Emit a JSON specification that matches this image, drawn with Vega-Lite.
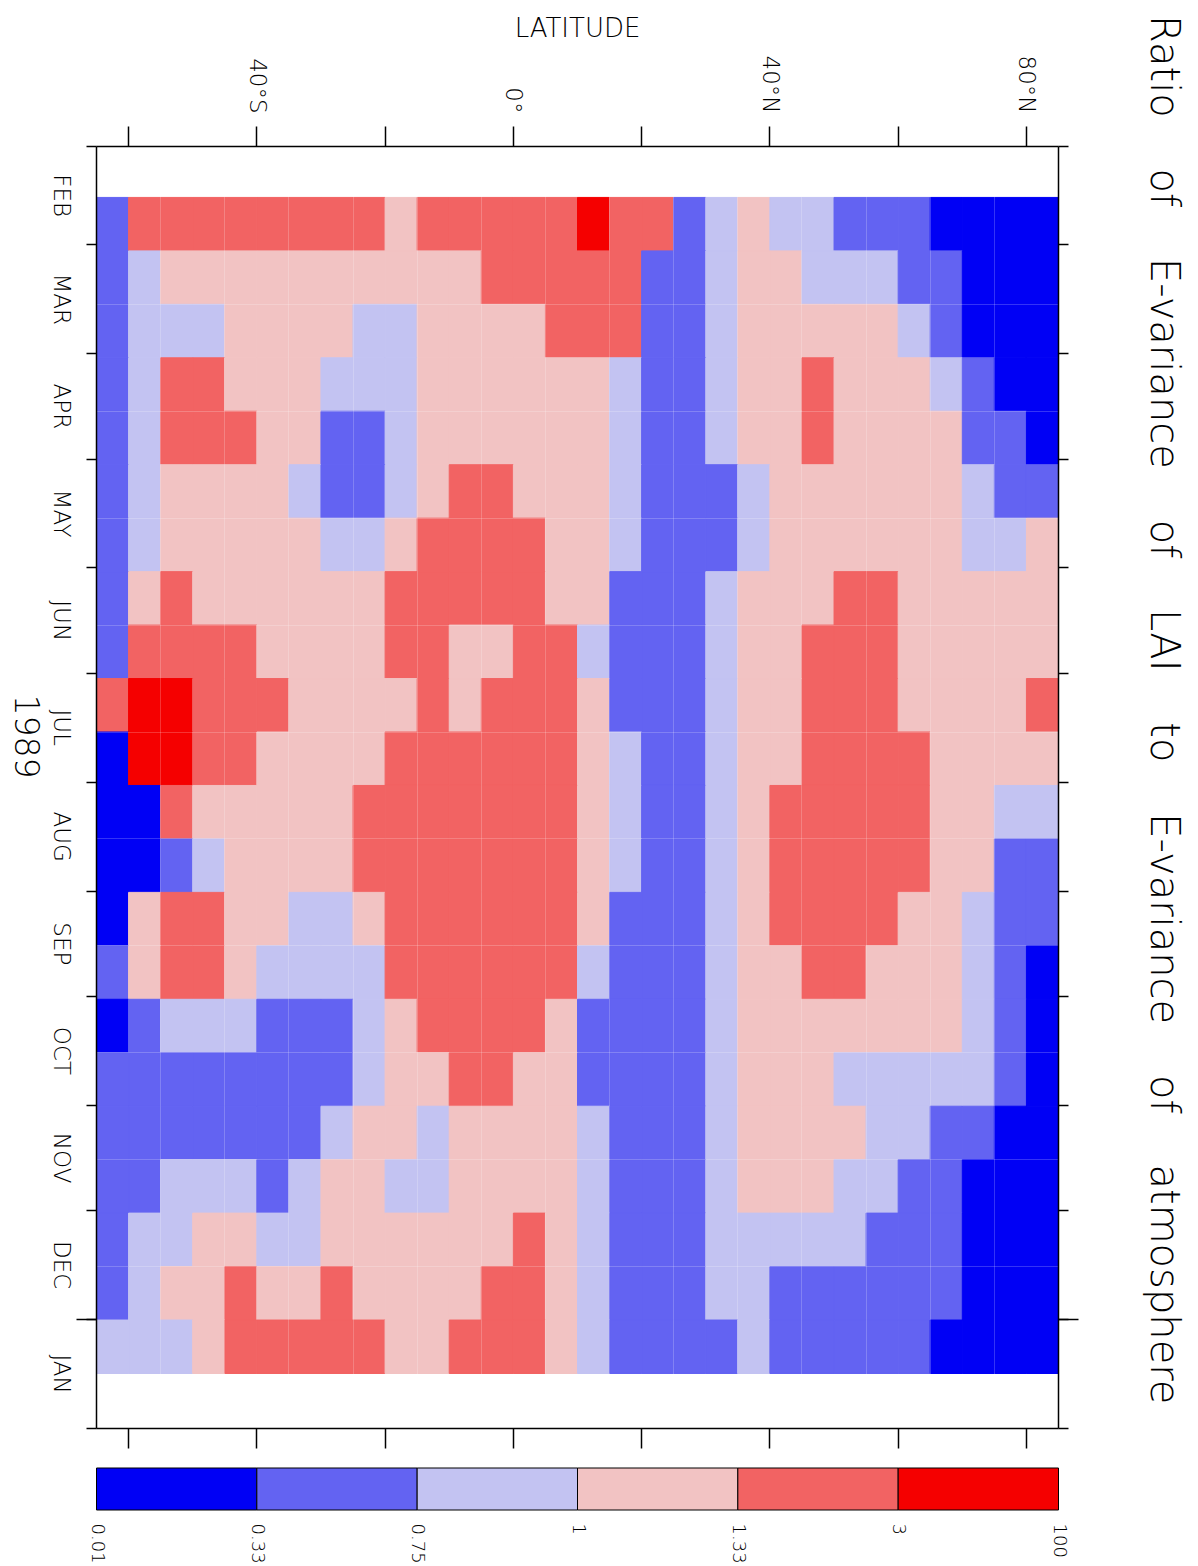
{
"$schema":"https://vega.github.io/schema/vega-lite/v6.json",
"background":"white",
"padding":{"left":7,"top":15,"right":10,"bottom":0},
"spacing":18,
"config":{"view":{"stroke":null},"font":"DejaVu Sans",
"axis":{"labelFont":"DejaVu Sans","titleFont":"DejaVu Sans","labelFontWeight":200,"titleFontWeight":200,"labelColor":"black","titleColor":"black","domainColor":"black","tickColor":"black","labelFlush":false,"labelOverlap":false,"labelBound":false,"grid":false},
"title":{"font":"DejaVu Sans","fontWeight":200,"color":"black"}},
"vconcat":[
{"width":962,"height":1282,
"title":{"text":"Ratio\u00a0\u00a0\u00a0\u00a0of\u00a0\u00a0\u00a0\u00a0E-variance\u00a0\u00a0\u00a0\u00a0of\u00a0\u00a0\u00a0\u00a0LAI\u00a0\u00a0\u00a0\u00a0to\u00a0\u00a0\u00a0\u00a0E-variance\u00a0\u00a0\u00a0\u00a0of\u00a0\u00a0\u00a0\u00a0atmosphere","orient":"right","anchor":"start","fontSize":40,"offset":64,"frame":"bounds"},
"data":{"values":[
{"lat":-62.5,"t":0.25,"c":1},{"lat":-57.5,"t":0.25,"c":4},{"lat":-52.5,"t":0.25,"c":4},{"lat":-47.5,"t":0.25,"c":4},{"lat":-42.5,"t":0.25,"c":4},{"lat":-37.5,"t":0.25,"c":4},{"lat":-32.5,"t":0.25,"c":4},{"lat":-27.5,"t":0.25,"c":4},{"lat":-22.5,"t":0.25,"c":4},{"lat":-17.5,"t":0.25,"c":3},{"lat":-12.5,"t":0.25,"c":4},{"lat":-7.5,"t":0.25,"c":4},{"lat":-2.5,"t":0.25,"c":4},{"lat":2.5,"t":0.25,"c":4},{"lat":7.5,"t":0.25,"c":4},{"lat":12.5,"t":0.25,"c":5},{"lat":17.5,"t":0.25,"c":4},{"lat":22.5,"t":0.25,"c":4},{"lat":27.5,"t":0.25,"c":1},{"lat":32.5,"t":0.25,"c":2},{"lat":37.5,"t":0.25,"c":3},{"lat":42.5,"t":0.25,"c":2},{"lat":47.5,"t":0.25,"c":2},{"lat":52.5,"t":0.25,"c":1},{"lat":57.5,"t":0.25,"c":1},{"lat":62.5,"t":0.25,"c":1},{"lat":67.5,"t":0.25,"c":0},{"lat":72.5,"t":0.25,"c":0},{"lat":77.5,"t":0.25,"c":0},{"lat":82.5,"t":0.25,"c":0},
{"lat":-62.5,"t":0.75,"c":1},{"lat":-57.5,"t":0.75,"c":2},{"lat":-52.5,"t":0.75,"c":3},{"lat":-47.5,"t":0.75,"c":3},{"lat":-42.5,"t":0.75,"c":3},{"lat":-37.5,"t":0.75,"c":3},{"lat":-32.5,"t":0.75,"c":3},{"lat":-27.5,"t":0.75,"c":3},{"lat":-22.5,"t":0.75,"c":3},{"lat":-17.5,"t":0.75,"c":3},{"lat":-12.5,"t":0.75,"c":3},{"lat":-7.5,"t":0.75,"c":3},{"lat":-2.5,"t":0.75,"c":4},{"lat":2.5,"t":0.75,"c":4},{"lat":7.5,"t":0.75,"c":4},{"lat":12.5,"t":0.75,"c":4},{"lat":17.5,"t":0.75,"c":4},{"lat":22.5,"t":0.75,"c":1},{"lat":27.5,"t":0.75,"c":1},{"lat":32.5,"t":0.75,"c":2},{"lat":37.5,"t":0.75,"c":3},{"lat":42.5,"t":0.75,"c":3},{"lat":47.5,"t":0.75,"c":2},{"lat":52.5,"t":0.75,"c":2},{"lat":57.5,"t":0.75,"c":2},{"lat":62.5,"t":0.75,"c":1},{"lat":67.5,"t":0.75,"c":1},{"lat":72.5,"t":0.75,"c":0},{"lat":77.5,"t":0.75,"c":0},{"lat":82.5,"t":0.75,"c":0},
{"lat":-62.5,"t":1.25,"c":1},{"lat":-57.5,"t":1.25,"c":2},{"lat":-52.5,"t":1.25,"c":2},{"lat":-47.5,"t":1.25,"c":2},{"lat":-42.5,"t":1.25,"c":3},{"lat":-37.5,"t":1.25,"c":3},{"lat":-32.5,"t":1.25,"c":3},{"lat":-27.5,"t":1.25,"c":3},{"lat":-22.5,"t":1.25,"c":2},{"lat":-17.5,"t":1.25,"c":2},{"lat":-12.5,"t":1.25,"c":3},{"lat":-7.5,"t":1.25,"c":3},{"lat":-2.5,"t":1.25,"c":3},{"lat":2.5,"t":1.25,"c":3},{"lat":7.5,"t":1.25,"c":4},{"lat":12.5,"t":1.25,"c":4},{"lat":17.5,"t":1.25,"c":4},{"lat":22.5,"t":1.25,"c":1},{"lat":27.5,"t":1.25,"c":1},{"lat":32.5,"t":1.25,"c":2},{"lat":37.5,"t":1.25,"c":3},{"lat":42.5,"t":1.25,"c":3},{"lat":47.5,"t":1.25,"c":3},{"lat":52.5,"t":1.25,"c":3},{"lat":57.5,"t":1.25,"c":3},{"lat":62.5,"t":1.25,"c":2},{"lat":67.5,"t":1.25,"c":1},{"lat":72.5,"t":1.25,"c":0},{"lat":77.5,"t":1.25,"c":0},{"lat":82.5,"t":1.25,"c":0},
{"lat":-62.5,"t":1.75,"c":1},{"lat":-57.5,"t":1.75,"c":2},{"lat":-52.5,"t":1.75,"c":4},{"lat":-47.5,"t":1.75,"c":4},{"lat":-42.5,"t":1.75,"c":3},{"lat":-37.5,"t":1.75,"c":3},{"lat":-32.5,"t":1.75,"c":3},{"lat":-27.5,"t":1.75,"c":2},{"lat":-22.5,"t":1.75,"c":2},{"lat":-17.5,"t":1.75,"c":2},{"lat":-12.5,"t":1.75,"c":3},{"lat":-7.5,"t":1.75,"c":3},{"lat":-2.5,"t":1.75,"c":3},{"lat":2.5,"t":1.75,"c":3},{"lat":7.5,"t":1.75,"c":3},{"lat":12.5,"t":1.75,"c":3},{"lat":17.5,"t":1.75,"c":2},{"lat":22.5,"t":1.75,"c":1},{"lat":27.5,"t":1.75,"c":1},{"lat":32.5,"t":1.75,"c":2},{"lat":37.5,"t":1.75,"c":3},{"lat":42.5,"t":1.75,"c":3},{"lat":47.5,"t":1.75,"c":4},{"lat":52.5,"t":1.75,"c":3},{"lat":57.5,"t":1.75,"c":3},{"lat":62.5,"t":1.75,"c":3},{"lat":67.5,"t":1.75,"c":2},{"lat":72.5,"t":1.75,"c":1},{"lat":77.5,"t":1.75,"c":0},{"lat":82.5,"t":1.75,"c":0},
{"lat":-62.5,"t":2.25,"c":1},{"lat":-57.5,"t":2.25,"c":2},{"lat":-52.5,"t":2.25,"c":4},{"lat":-47.5,"t":2.25,"c":4},{"lat":-42.5,"t":2.25,"c":4},{"lat":-37.5,"t":2.25,"c":3},{"lat":-32.5,"t":2.25,"c":3},{"lat":-27.5,"t":2.25,"c":1},{"lat":-22.5,"t":2.25,"c":1},{"lat":-17.5,"t":2.25,"c":2},{"lat":-12.5,"t":2.25,"c":3},{"lat":-7.5,"t":2.25,"c":3},{"lat":-2.5,"t":2.25,"c":3},{"lat":2.5,"t":2.25,"c":3},{"lat":7.5,"t":2.25,"c":3},{"lat":12.5,"t":2.25,"c":3},{"lat":17.5,"t":2.25,"c":2},{"lat":22.5,"t":2.25,"c":1},{"lat":27.5,"t":2.25,"c":1},{"lat":32.5,"t":2.25,"c":2},{"lat":37.5,"t":2.25,"c":3},{"lat":42.5,"t":2.25,"c":3},{"lat":47.5,"t":2.25,"c":4},{"lat":52.5,"t":2.25,"c":3},{"lat":57.5,"t":2.25,"c":3},{"lat":62.5,"t":2.25,"c":3},{"lat":67.5,"t":2.25,"c":3},{"lat":72.5,"t":2.25,"c":1},{"lat":77.5,"t":2.25,"c":1},{"lat":82.5,"t":2.25,"c":0},
{"lat":-62.5,"t":2.75,"c":1},{"lat":-57.5,"t":2.75,"c":2},{"lat":-52.5,"t":2.75,"c":3},{"lat":-47.5,"t":2.75,"c":3},{"lat":-42.5,"t":2.75,"c":3},{"lat":-37.5,"t":2.75,"c":3},{"lat":-32.5,"t":2.75,"c":2},{"lat":-27.5,"t":2.75,"c":1},{"lat":-22.5,"t":2.75,"c":1},{"lat":-17.5,"t":2.75,"c":2},{"lat":-12.5,"t":2.75,"c":3},{"lat":-7.5,"t":2.75,"c":4},{"lat":-2.5,"t":2.75,"c":4},{"lat":2.5,"t":2.75,"c":3},{"lat":7.5,"t":2.75,"c":3},{"lat":12.5,"t":2.75,"c":3},{"lat":17.5,"t":2.75,"c":2},{"lat":22.5,"t":2.75,"c":1},{"lat":27.5,"t":2.75,"c":1},{"lat":32.5,"t":2.75,"c":1},{"lat":37.5,"t":2.75,"c":2},{"lat":42.5,"t":2.75,"c":3},{"lat":47.5,"t":2.75,"c":3},{"lat":52.5,"t":2.75,"c":3},{"lat":57.5,"t":2.75,"c":3},{"lat":62.5,"t":2.75,"c":3},{"lat":67.5,"t":2.75,"c":3},{"lat":72.5,"t":2.75,"c":2},{"lat":77.5,"t":2.75,"c":1},{"lat":82.5,"t":2.75,"c":1},
{"lat":-62.5,"t":3.25,"c":1},{"lat":-57.5,"t":3.25,"c":2},{"lat":-52.5,"t":3.25,"c":3},{"lat":-47.5,"t":3.25,"c":3},{"lat":-42.5,"t":3.25,"c":3},{"lat":-37.5,"t":3.25,"c":3},{"lat":-32.5,"t":3.25,"c":3},{"lat":-27.5,"t":3.25,"c":2},{"lat":-22.5,"t":3.25,"c":2},{"lat":-17.5,"t":3.25,"c":3},{"lat":-12.5,"t":3.25,"c":4},{"lat":-7.5,"t":3.25,"c":4},{"lat":-2.5,"t":3.25,"c":4},{"lat":2.5,"t":3.25,"c":4},{"lat":7.5,"t":3.25,"c":3},{"lat":12.5,"t":3.25,"c":3},{"lat":17.5,"t":3.25,"c":2},{"lat":22.5,"t":3.25,"c":1},{"lat":27.5,"t":3.25,"c":1},{"lat":32.5,"t":3.25,"c":1},{"lat":37.5,"t":3.25,"c":2},{"lat":42.5,"t":3.25,"c":3},{"lat":47.5,"t":3.25,"c":3},{"lat":52.5,"t":3.25,"c":3},{"lat":57.5,"t":3.25,"c":3},{"lat":62.5,"t":3.25,"c":3},{"lat":67.5,"t":3.25,"c":3},{"lat":72.5,"t":3.25,"c":2},{"lat":77.5,"t":3.25,"c":2},{"lat":82.5,"t":3.25,"c":3},
{"lat":-62.5,"t":3.75,"c":1},{"lat":-57.5,"t":3.75,"c":3},{"lat":-52.5,"t":3.75,"c":4},{"lat":-47.5,"t":3.75,"c":3},{"lat":-42.5,"t":3.75,"c":3},{"lat":-37.5,"t":3.75,"c":3},{"lat":-32.5,"t":3.75,"c":3},{"lat":-27.5,"t":3.75,"c":3},{"lat":-22.5,"t":3.75,"c":3},{"lat":-17.5,"t":3.75,"c":4},{"lat":-12.5,"t":3.75,"c":4},{"lat":-7.5,"t":3.75,"c":4},{"lat":-2.5,"t":3.75,"c":4},{"lat":2.5,"t":3.75,"c":4},{"lat":7.5,"t":3.75,"c":3},{"lat":12.5,"t":3.75,"c":3},{"lat":17.5,"t":3.75,"c":1},{"lat":22.5,"t":3.75,"c":1},{"lat":27.5,"t":3.75,"c":1},{"lat":32.5,"t":3.75,"c":2},{"lat":37.5,"t":3.75,"c":3},{"lat":42.5,"t":3.75,"c":3},{"lat":47.5,"t":3.75,"c":3},{"lat":52.5,"t":3.75,"c":4},{"lat":57.5,"t":3.75,"c":4},{"lat":62.5,"t":3.75,"c":3},{"lat":67.5,"t":3.75,"c":3},{"lat":72.5,"t":3.75,"c":3},{"lat":77.5,"t":3.75,"c":3},{"lat":82.5,"t":3.75,"c":3},
{"lat":-62.5,"t":4.25,"c":1},{"lat":-57.5,"t":4.25,"c":4},{"lat":-52.5,"t":4.25,"c":4},{"lat":-47.5,"t":4.25,"c":4},{"lat":-42.5,"t":4.25,"c":4},{"lat":-37.5,"t":4.25,"c":3},{"lat":-32.5,"t":4.25,"c":3},{"lat":-27.5,"t":4.25,"c":3},{"lat":-22.5,"t":4.25,"c":3},{"lat":-17.5,"t":4.25,"c":4},{"lat":-12.5,"t":4.25,"c":4},{"lat":-7.5,"t":4.25,"c":3},{"lat":-2.5,"t":4.25,"c":3},{"lat":2.5,"t":4.25,"c":4},{"lat":7.5,"t":4.25,"c":4},{"lat":12.5,"t":4.25,"c":2},{"lat":17.5,"t":4.25,"c":1},{"lat":22.5,"t":4.25,"c":1},{"lat":27.5,"t":4.25,"c":1},{"lat":32.5,"t":4.25,"c":2},{"lat":37.5,"t":4.25,"c":3},{"lat":42.5,"t":4.25,"c":3},{"lat":47.5,"t":4.25,"c":4},{"lat":52.5,"t":4.25,"c":4},{"lat":57.5,"t":4.25,"c":4},{"lat":62.5,"t":4.25,"c":3},{"lat":67.5,"t":4.25,"c":3},{"lat":72.5,"t":4.25,"c":3},{"lat":77.5,"t":4.25,"c":3},{"lat":82.5,"t":4.25,"c":3},
{"lat":-62.5,"t":4.75,"c":4},{"lat":-57.5,"t":4.75,"c":5},{"lat":-52.5,"t":4.75,"c":5},{"lat":-47.5,"t":4.75,"c":4},{"lat":-42.5,"t":4.75,"c":4},{"lat":-37.5,"t":4.75,"c":4},{"lat":-32.5,"t":4.75,"c":3},{"lat":-27.5,"t":4.75,"c":3},{"lat":-22.5,"t":4.75,"c":3},{"lat":-17.5,"t":4.75,"c":3},{"lat":-12.5,"t":4.75,"c":4},{"lat":-7.5,"t":4.75,"c":3},{"lat":-2.5,"t":4.75,"c":4},{"lat":2.5,"t":4.75,"c":4},{"lat":7.5,"t":4.75,"c":4},{"lat":12.5,"t":4.75,"c":3},{"lat":17.5,"t":4.75,"c":1},{"lat":22.5,"t":4.75,"c":1},{"lat":27.5,"t":4.75,"c":1},{"lat":32.5,"t":4.75,"c":2},{"lat":37.5,"t":4.75,"c":3},{"lat":42.5,"t":4.75,"c":3},{"lat":47.5,"t":4.75,"c":4},{"lat":52.5,"t":4.75,"c":4},{"lat":57.5,"t":4.75,"c":4},{"lat":62.5,"t":4.75,"c":3},{"lat":67.5,"t":4.75,"c":3},{"lat":72.5,"t":4.75,"c":3},{"lat":77.5,"t":4.75,"c":3},{"lat":82.5,"t":4.75,"c":4},
{"lat":-62.5,"t":5.25,"c":0},{"lat":-57.5,"t":5.25,"c":5},{"lat":-52.5,"t":5.25,"c":5},{"lat":-47.5,"t":5.25,"c":4},{"lat":-42.5,"t":5.25,"c":4},{"lat":-37.5,"t":5.25,"c":3},{"lat":-32.5,"t":5.25,"c":3},{"lat":-27.5,"t":5.25,"c":3},{"lat":-22.5,"t":5.25,"c":3},{"lat":-17.5,"t":5.25,"c":4},{"lat":-12.5,"t":5.25,"c":4},{"lat":-7.5,"t":5.25,"c":4},{"lat":-2.5,"t":5.25,"c":4},{"lat":2.5,"t":5.25,"c":4},{"lat":7.5,"t":5.25,"c":4},{"lat":12.5,"t":5.25,"c":3},{"lat":17.5,"t":5.25,"c":2},{"lat":22.5,"t":5.25,"c":1},{"lat":27.5,"t":5.25,"c":1},{"lat":32.5,"t":5.25,"c":2},{"lat":37.5,"t":5.25,"c":3},{"lat":42.5,"t":5.25,"c":3},{"lat":47.5,"t":5.25,"c":4},{"lat":52.5,"t":5.25,"c":4},{"lat":57.5,"t":5.25,"c":4},{"lat":62.5,"t":5.25,"c":4},{"lat":67.5,"t":5.25,"c":3},{"lat":72.5,"t":5.25,"c":3},{"lat":77.5,"t":5.25,"c":3},{"lat":82.5,"t":5.25,"c":3},
{"lat":-62.5,"t":5.75,"c":0},{"lat":-57.5,"t":5.75,"c":0},{"lat":-52.5,"t":5.75,"c":4},{"lat":-47.5,"t":5.75,"c":3},{"lat":-42.5,"t":5.75,"c":3},{"lat":-37.5,"t":5.75,"c":3},{"lat":-32.5,"t":5.75,"c":3},{"lat":-27.5,"t":5.75,"c":3},{"lat":-22.5,"t":5.75,"c":4},{"lat":-17.5,"t":5.75,"c":4},{"lat":-12.5,"t":5.75,"c":4},{"lat":-7.5,"t":5.75,"c":4},{"lat":-2.5,"t":5.75,"c":4},{"lat":2.5,"t":5.75,"c":4},{"lat":7.5,"t":5.75,"c":4},{"lat":12.5,"t":5.75,"c":3},{"lat":17.5,"t":5.75,"c":2},{"lat":22.5,"t":5.75,"c":1},{"lat":27.5,"t":5.75,"c":1},{"lat":32.5,"t":5.75,"c":2},{"lat":37.5,"t":5.75,"c":3},{"lat":42.5,"t":5.75,"c":4},{"lat":47.5,"t":5.75,"c":4},{"lat":52.5,"t":5.75,"c":4},{"lat":57.5,"t":5.75,"c":4},{"lat":62.5,"t":5.75,"c":4},{"lat":67.5,"t":5.75,"c":3},{"lat":72.5,"t":5.75,"c":3},{"lat":77.5,"t":5.75,"c":2},{"lat":82.5,"t":5.75,"c":2},
{"lat":-62.5,"t":6.25,"c":0},{"lat":-57.5,"t":6.25,"c":0},{"lat":-52.5,"t":6.25,"c":1},{"lat":-47.5,"t":6.25,"c":2},{"lat":-42.5,"t":6.25,"c":3},{"lat":-37.5,"t":6.25,"c":3},{"lat":-32.5,"t":6.25,"c":3},{"lat":-27.5,"t":6.25,"c":3},{"lat":-22.5,"t":6.25,"c":4},{"lat":-17.5,"t":6.25,"c":4},{"lat":-12.5,"t":6.25,"c":4},{"lat":-7.5,"t":6.25,"c":4},{"lat":-2.5,"t":6.25,"c":4},{"lat":2.5,"t":6.25,"c":4},{"lat":7.5,"t":6.25,"c":4},{"lat":12.5,"t":6.25,"c":3},{"lat":17.5,"t":6.25,"c":2},{"lat":22.5,"t":6.25,"c":1},{"lat":27.5,"t":6.25,"c":1},{"lat":32.5,"t":6.25,"c":2},{"lat":37.5,"t":6.25,"c":3},{"lat":42.5,"t":6.25,"c":4},{"lat":47.5,"t":6.25,"c":4},{"lat":52.5,"t":6.25,"c":4},{"lat":57.5,"t":6.25,"c":4},{"lat":62.5,"t":6.25,"c":4},{"lat":67.5,"t":6.25,"c":3},{"lat":72.5,"t":6.25,"c":3},{"lat":77.5,"t":6.25,"c":1},{"lat":82.5,"t":6.25,"c":1},
{"lat":-62.5,"t":6.75,"c":0},{"lat":-57.5,"t":6.75,"c":3},{"lat":-52.5,"t":6.75,"c":4},{"lat":-47.5,"t":6.75,"c":4},{"lat":-42.5,"t":6.75,"c":3},{"lat":-37.5,"t":6.75,"c":3},{"lat":-32.5,"t":6.75,"c":2},{"lat":-27.5,"t":6.75,"c":2},{"lat":-22.5,"t":6.75,"c":3},{"lat":-17.5,"t":6.75,"c":4},{"lat":-12.5,"t":6.75,"c":4},{"lat":-7.5,"t":6.75,"c":4},{"lat":-2.5,"t":6.75,"c":4},{"lat":2.5,"t":6.75,"c":4},{"lat":7.5,"t":6.75,"c":4},{"lat":12.5,"t":6.75,"c":3},{"lat":17.5,"t":6.75,"c":1},{"lat":22.5,"t":6.75,"c":1},{"lat":27.5,"t":6.75,"c":1},{"lat":32.5,"t":6.75,"c":2},{"lat":37.5,"t":6.75,"c":3},{"lat":42.5,"t":6.75,"c":4},{"lat":47.5,"t":6.75,"c":4},{"lat":52.5,"t":6.75,"c":4},{"lat":57.5,"t":6.75,"c":4},{"lat":62.5,"t":6.75,"c":3},{"lat":67.5,"t":6.75,"c":3},{"lat":72.5,"t":6.75,"c":2},{"lat":77.5,"t":6.75,"c":1},{"lat":82.5,"t":6.75,"c":1},
{"lat":-62.5,"t":7.25,"c":1},{"lat":-57.5,"t":7.25,"c":3},{"lat":-52.5,"t":7.25,"c":4},{"lat":-47.5,"t":7.25,"c":4},{"lat":-42.5,"t":7.25,"c":3},{"lat":-37.5,"t":7.25,"c":2},{"lat":-32.5,"t":7.25,"c":2},{"lat":-27.5,"t":7.25,"c":2},{"lat":-22.5,"t":7.25,"c":2},{"lat":-17.5,"t":7.25,"c":4},{"lat":-12.5,"t":7.25,"c":4},{"lat":-7.5,"t":7.25,"c":4},{"lat":-2.5,"t":7.25,"c":4},{"lat":2.5,"t":7.25,"c":4},{"lat":7.5,"t":7.25,"c":4},{"lat":12.5,"t":7.25,"c":2},{"lat":17.5,"t":7.25,"c":1},{"lat":22.5,"t":7.25,"c":1},{"lat":27.5,"t":7.25,"c":1},{"lat":32.5,"t":7.25,"c":2},{"lat":37.5,"t":7.25,"c":3},{"lat":42.5,"t":7.25,"c":3},{"lat":47.5,"t":7.25,"c":4},{"lat":52.5,"t":7.25,"c":4},{"lat":57.5,"t":7.25,"c":3},{"lat":62.5,"t":7.25,"c":3},{"lat":67.5,"t":7.25,"c":3},{"lat":72.5,"t":7.25,"c":2},{"lat":77.5,"t":7.25,"c":1},{"lat":82.5,"t":7.25,"c":0},
{"lat":-62.5,"t":7.75,"c":0},{"lat":-57.5,"t":7.75,"c":1},{"lat":-52.5,"t":7.75,"c":2},{"lat":-47.5,"t":7.75,"c":2},{"lat":-42.5,"t":7.75,"c":2},{"lat":-37.5,"t":7.75,"c":1},{"lat":-32.5,"t":7.75,"c":1},{"lat":-27.5,"t":7.75,"c":1},{"lat":-22.5,"t":7.75,"c":2},{"lat":-17.5,"t":7.75,"c":3},{"lat":-12.5,"t":7.75,"c":4},{"lat":-7.5,"t":7.75,"c":4},{"lat":-2.5,"t":7.75,"c":4},{"lat":2.5,"t":7.75,"c":4},{"lat":7.5,"t":7.75,"c":3},{"lat":12.5,"t":7.75,"c":1},{"lat":17.5,"t":7.75,"c":1},{"lat":22.5,"t":7.75,"c":1},{"lat":27.5,"t":7.75,"c":1},{"lat":32.5,"t":7.75,"c":2},{"lat":37.5,"t":7.75,"c":3},{"lat":42.5,"t":7.75,"c":3},{"lat":47.5,"t":7.75,"c":3},{"lat":52.5,"t":7.75,"c":3},{"lat":57.5,"t":7.75,"c":3},{"lat":62.5,"t":7.75,"c":3},{"lat":67.5,"t":7.75,"c":3},{"lat":72.5,"t":7.75,"c":2},{"lat":77.5,"t":7.75,"c":1},{"lat":82.5,"t":7.75,"c":0},
{"lat":-62.5,"t":8.25,"c":1},{"lat":-57.5,"t":8.25,"c":1},{"lat":-52.5,"t":8.25,"c":1},{"lat":-47.5,"t":8.25,"c":1},{"lat":-42.5,"t":8.25,"c":1},{"lat":-37.5,"t":8.25,"c":1},{"lat":-32.5,"t":8.25,"c":1},{"lat":-27.5,"t":8.25,"c":1},{"lat":-22.5,"t":8.25,"c":2},{"lat":-17.5,"t":8.25,"c":3},{"lat":-12.5,"t":8.25,"c":3},{"lat":-7.5,"t":8.25,"c":4},{"lat":-2.5,"t":8.25,"c":4},{"lat":2.5,"t":8.25,"c":3},{"lat":7.5,"t":8.25,"c":3},{"lat":12.5,"t":8.25,"c":1},{"lat":17.5,"t":8.25,"c":1},{"lat":22.5,"t":8.25,"c":1},{"lat":27.5,"t":8.25,"c":1},{"lat":32.5,"t":8.25,"c":2},{"lat":37.5,"t":8.25,"c":3},{"lat":42.5,"t":8.25,"c":3},{"lat":47.5,"t":8.25,"c":3},{"lat":52.5,"t":8.25,"c":2},{"lat":57.5,"t":8.25,"c":2},{"lat":62.5,"t":8.25,"c":2},{"lat":67.5,"t":8.25,"c":2},{"lat":72.5,"t":8.25,"c":2},{"lat":77.5,"t":8.25,"c":1},{"lat":82.5,"t":8.25,"c":0},
{"lat":-62.5,"t":8.75,"c":1},{"lat":-57.5,"t":8.75,"c":1},{"lat":-52.5,"t":8.75,"c":1},{"lat":-47.5,"t":8.75,"c":1},{"lat":-42.5,"t":8.75,"c":1},{"lat":-37.5,"t":8.75,"c":1},{"lat":-32.5,"t":8.75,"c":1},{"lat":-27.5,"t":8.75,"c":2},{"lat":-22.5,"t":8.75,"c":3},{"lat":-17.5,"t":8.75,"c":3},{"lat":-12.5,"t":8.75,"c":2},{"lat":-7.5,"t":8.75,"c":3},{"lat":-2.5,"t":8.75,"c":3},{"lat":2.5,"t":8.75,"c":3},{"lat":7.5,"t":8.75,"c":3},{"lat":12.5,"t":8.75,"c":2},{"lat":17.5,"t":8.75,"c":1},{"lat":22.5,"t":8.75,"c":1},{"lat":27.5,"t":8.75,"c":1},{"lat":32.5,"t":8.75,"c":2},{"lat":37.5,"t":8.75,"c":3},{"lat":42.5,"t":8.75,"c":3},{"lat":47.5,"t":8.75,"c":3},{"lat":52.5,"t":8.75,"c":3},{"lat":57.5,"t":8.75,"c":2},{"lat":62.5,"t":8.75,"c":2},{"lat":67.5,"t":8.75,"c":1},{"lat":72.5,"t":8.75,"c":1},{"lat":77.5,"t":8.75,"c":0},{"lat":82.5,"t":8.75,"c":0},
{"lat":-62.5,"t":9.25,"c":1},{"lat":-57.5,"t":9.25,"c":1},{"lat":-52.5,"t":9.25,"c":2},{"lat":-47.5,"t":9.25,"c":2},{"lat":-42.5,"t":9.25,"c":2},{"lat":-37.5,"t":9.25,"c":1},{"lat":-32.5,"t":9.25,"c":2},{"lat":-27.5,"t":9.25,"c":3},{"lat":-22.5,"t":9.25,"c":3},{"lat":-17.5,"t":9.25,"c":2},{"lat":-12.5,"t":9.25,"c":2},{"lat":-7.5,"t":9.25,"c":3},{"lat":-2.5,"t":9.25,"c":3},{"lat":2.5,"t":9.25,"c":3},{"lat":7.5,"t":9.25,"c":3},{"lat":12.5,"t":9.25,"c":2},{"lat":17.5,"t":9.25,"c":1},{"lat":22.5,"t":9.25,"c":1},{"lat":27.5,"t":9.25,"c":1},{"lat":32.5,"t":9.25,"c":2},{"lat":37.5,"t":9.25,"c":3},{"lat":42.5,"t":9.25,"c":3},{"lat":47.5,"t":9.25,"c":3},{"lat":52.5,"t":9.25,"c":2},{"lat":57.5,"t":9.25,"c":2},{"lat":62.5,"t":9.25,"c":1},{"lat":67.5,"t":9.25,"c":1},{"lat":72.5,"t":9.25,"c":0},{"lat":77.5,"t":9.25,"c":0},{"lat":82.5,"t":9.25,"c":0},
{"lat":-62.5,"t":9.75,"c":1},{"lat":-57.5,"t":9.75,"c":2},{"lat":-52.5,"t":9.75,"c":2},{"lat":-47.5,"t":9.75,"c":3},{"lat":-42.5,"t":9.75,"c":3},{"lat":-37.5,"t":9.75,"c":2},{"lat":-32.5,"t":9.75,"c":2},{"lat":-27.5,"t":9.75,"c":3},{"lat":-22.5,"t":9.75,"c":3},{"lat":-17.5,"t":9.75,"c":3},{"lat":-12.5,"t":9.75,"c":3},{"lat":-7.5,"t":9.75,"c":3},{"lat":-2.5,"t":9.75,"c":3},{"lat":2.5,"t":9.75,"c":4},{"lat":7.5,"t":9.75,"c":3},{"lat":12.5,"t":9.75,"c":2},{"lat":17.5,"t":9.75,"c":1},{"lat":22.5,"t":9.75,"c":1},{"lat":27.5,"t":9.75,"c":1},{"lat":32.5,"t":9.75,"c":2},{"lat":37.5,"t":9.75,"c":2},{"lat":42.5,"t":9.75,"c":2},{"lat":47.5,"t":9.75,"c":2},{"lat":52.5,"t":9.75,"c":2},{"lat":57.5,"t":9.75,"c":1},{"lat":62.5,"t":9.75,"c":1},{"lat":67.5,"t":9.75,"c":1},{"lat":72.5,"t":9.75,"c":0},{"lat":77.5,"t":9.75,"c":0},{"lat":82.5,"t":9.75,"c":0},
{"lat":-62.5,"t":10.25,"c":1},{"lat":-57.5,"t":10.25,"c":2},{"lat":-52.5,"t":10.25,"c":3},{"lat":-47.5,"t":10.25,"c":3},{"lat":-42.5,"t":10.25,"c":4},{"lat":-37.5,"t":10.25,"c":3},{"lat":-32.5,"t":10.25,"c":3},{"lat":-27.5,"t":10.25,"c":4},{"lat":-22.5,"t":10.25,"c":3},{"lat":-17.5,"t":10.25,"c":3},{"lat":-12.5,"t":10.25,"c":3},{"lat":-7.5,"t":10.25,"c":3},{"lat":-2.5,"t":10.25,"c":4},{"lat":2.5,"t":10.25,"c":4},{"lat":7.5,"t":10.25,"c":3},{"lat":12.5,"t":10.25,"c":2},{"lat":17.5,"t":10.25,"c":1},{"lat":22.5,"t":10.25,"c":1},{"lat":27.5,"t":10.25,"c":1},{"lat":32.5,"t":10.25,"c":2},{"lat":37.5,"t":10.25,"c":2},{"lat":42.5,"t":10.25,"c":1},{"lat":47.5,"t":10.25,"c":1},{"lat":52.5,"t":10.25,"c":1},{"lat":57.5,"t":10.25,"c":1},{"lat":62.5,"t":10.25,"c":1},{"lat":67.5,"t":10.25,"c":1},{"lat":72.5,"t":10.25,"c":0},{"lat":77.5,"t":10.25,"c":0},{"lat":82.5,"t":10.25,"c":0},
{"lat":-62.5,"t":10.75,"c":2},{"lat":-57.5,"t":10.75,"c":2},{"lat":-52.5,"t":10.75,"c":2},{"lat":-47.5,"t":10.75,"c":3},{"lat":-42.5,"t":10.75,"c":4},{"lat":-37.5,"t":10.75,"c":4},{"lat":-32.5,"t":10.75,"c":4},{"lat":-27.5,"t":10.75,"c":4},{"lat":-22.5,"t":10.75,"c":4},{"lat":-17.5,"t":10.75,"c":3},{"lat":-12.5,"t":10.75,"c":3},{"lat":-7.5,"t":10.75,"c":4},{"lat":-2.5,"t":10.75,"c":4},{"lat":2.5,"t":10.75,"c":4},{"lat":7.5,"t":10.75,"c":3},{"lat":12.5,"t":10.75,"c":2},{"lat":17.5,"t":10.75,"c":1},{"lat":22.5,"t":10.75,"c":1},{"lat":27.5,"t":10.75,"c":1},{"lat":32.5,"t":10.75,"c":1},{"lat":37.5,"t":10.75,"c":2},{"lat":42.5,"t":10.75,"c":1},{"lat":47.5,"t":10.75,"c":1},{"lat":52.5,"t":10.75,"c":1},{"lat":57.5,"t":10.75,"c":1},{"lat":62.5,"t":10.75,"c":1},{"lat":67.5,"t":10.75,"c":0},{"lat":72.5,"t":10.75,"c":0},{"lat":77.5,"t":10.75,"c":0},{"lat":82.5,"t":10.75,"c":0}
]},
"resolve":{"axis":{"x":"independent","y":"independent"}},
"layer":[
{"mark":{"type":"rect","strokeWidth":1},
"encoding":{
"x":{"field":"lat","type":"quantitative","bin":{"step":5,"extent":[-65,85]},"scale":{"domain":[-65,85],"nice":false,"zero":false},
"axis":{"orient":"top","values":[-60,-40,-20,0,20,40,60,80],"labelExpr":"datum.value == 0 ? '0°' : (datum.value % 40 == 0 ? abs(datum.value) + '°' + (datum.value < 0 ? 'S' : 'N') : '')","labelAngle":90,"labelAlign":"right","labelBaseline":"middle","labelFontSize":23,"labelPadding":13,"tickSize":20,"tickWidth":1.5,"domainWidth":1.5,"title":"LATITUDE","titleFontSize":26,"titlePadding":14,"zindex":1}},
"y":{"field":"t","type":"quantitative","bin":{"step":0.5,"extent":[0,11]},"scale":{"domain":[-0.4764,11.5145],"nice":false,"zero":false,"reverse":true},
"axis":{"orient":"left","values":[-0.4764,0.4435,1.4619,2.4474,3.4658,4.4514,5.4698,6.4882,7.4737,8.4921,9.4777,10.4961,11.5145],"labels":false,"tickSize":10,"tickWidth":1.5,"domainWidth":1.5,"title":null,"zindex":1}},
"fill":{"field":"c","type":"nominal","scale":{"domain":[0,1,2,3,4,5],"range":["#0000f5","#6363f2","#c3c3f2","#f2c3c3","#f26363","#f50000"]},"legend":null},
"stroke":{"field":"c","type":"nominal","scale":{"domain":[0,1,2,3,4,5],"range":["#0000f5","#6363f2","#c3c3f2","#f2c3c3","#f26363","#f50000"]},"legend":null}}},
{"mark":{"type":"point","opacity":0},
"encoding":{
"x":{"field":"lat","type":"quantitative","axis":{"orient":"bottom","values":[-60,-40,-20,0,20,40,60,80],"labels":false,"tickSize":20,"tickWidth":1.5,"domainWidth":1.5,"title":null,"zindex":1}},
"y":{"field":"t","type":"quantitative","axis":{"orient":"left","values":[10.4961],"labels":false,"tickSize":20,"tickWidth":1.5,"domain":false,"title":null,"zindex":1}}}},
{"mark":{"type":"point","opacity":0},
"encoding":{
"x":{"field":"lat","type":"quantitative","axis":{"orient":"bottom","values":[-55,-45,-35,-25,-15,-5,5,15,25,35,45,55,65,75],"grid":true,"gridColor":"white","gridOpacity":0.2,"gridWidth":1,"labels":false,"ticks":false,"domain":false,"title":null,"zindex":1}},
"y":{"field":"t","type":"quantitative","axis":{"orient":"left","values":[-0.0165,0.9527,1.9547,2.9566,3.9586,4.9606,5.979,6.981,7.9829,8.9849,9.9869,11.0053],"labelExpr":"['FEB','MAR','APR','MAY','JUN','JUL','AUG','SEP','OCT','NOV','DEC','JAN'][round(datum.value)]","ticks":false,"tickSize":0,"domain":false,"labelAngle":90,"labelAlign":"center","labelBaseline":"top","labelFontSize":23,"labelPadding":25,"title":"1989","titleAngle":90,"titleFontSize":33,"titleAlign":"center","titleBaseline":"middle","titleX":-71.5,"titleY":590,"zindex":1}}}},
{"mark":{"type":"point","opacity":0},
"encoding":{
"x":{"field":"lat","type":"quantitative","axis":null},
"y":{"field":"t","type":"quantitative","axis":{"orient":"right","values":[-0.4764,0.4435,1.4619,2.4474,3.4658,4.4514,5.4698,6.4882,7.4737,8.4921,9.4777,10.4961,11.5145],"labels":false,"tickSize":10,"tickWidth":1.5,"domainWidth":1.5,"title":null,"zindex":1}}}},
{"mark":{"type":"point","opacity":0},
"encoding":{
"x":{"field":"lat","type":"quantitative","axis":null},
"y":{"field":"t","type":"quantitative","axis":{"orient":"right","values":[10.4961],"labels":false,"tickSize":20,"tickWidth":1.5,"domain":false,"title":null,"zindex":1}}}},
{"mark":{"type":"point","opacity":0},
"encoding":{
"x":{"field":"lat","type":"quantitative","axis":null},
"y":{"field":"t","type":"quantitative","axis":{"orient":"left","values":[1,2,3,4,5,6,7,8,9,10],"grid":true,"gridColor":"white","gridOpacity":0.2,"gridWidth":1,"labels":false,"ticks":false,"domain":false,"title":null,"zindex":1}}}}
]},
{"width":962,"height":42,
"data":{"values":[{"c":0},{"c":1},{"c":2},{"c":3},{"c":4},{"c":5}]},
"mark":{"type":"rect","stroke":"black","strokeWidth":1},
"encoding":{
"x":{"field":"c","type":"quantitative","bin":{"step":1,"extent":[0,6]},"scale":{"domain":[0,6],"nice":false,"zero":false},
"axis":{"orient":"bottom","values":[0,1,2,3,4,5,6],"labelExpr":"['0.01','0.33','0.75','1','1.33','3','100'][datum.value]","labelAngle":90,"labelAlign":"left","labelBaseline":"middle","labelFontSize":18,"labelPadding":13,"ticks":false,"tickSize":0,"domain":false,"title":null}},
"fill":{"field":"c","type":"nominal","scale":{"domain":[0,1,2,3,4,5],"range":["#0000f5","#6363f2","#c3c3f2","#f2c3c3","#f26363","#f50000"]},"legend":null}}}
]
}
